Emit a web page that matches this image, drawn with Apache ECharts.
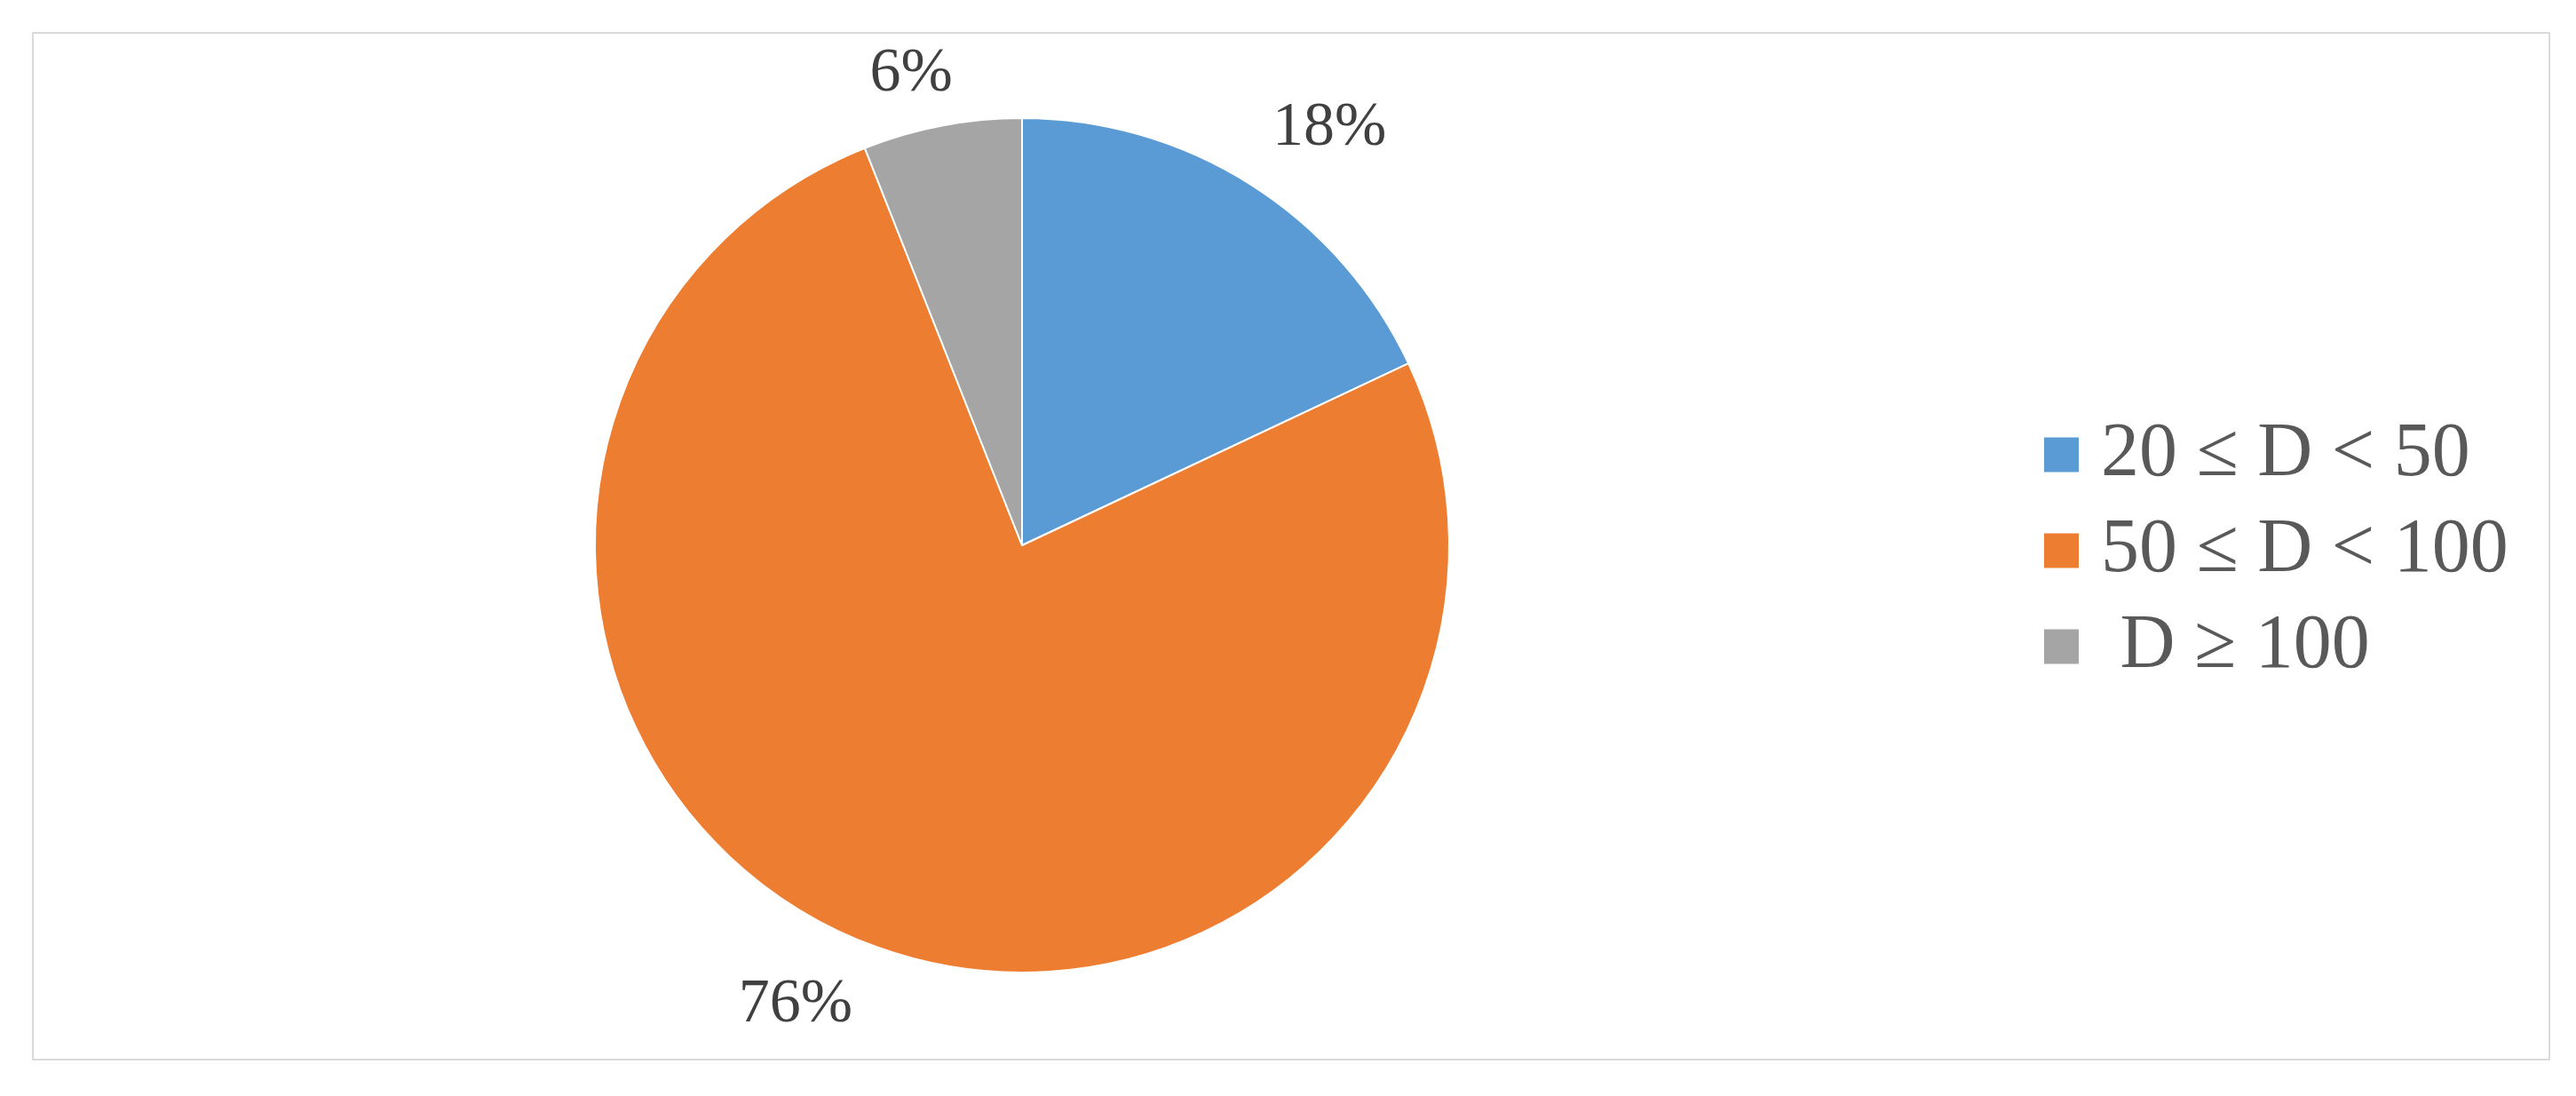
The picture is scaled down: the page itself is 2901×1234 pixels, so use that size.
<!DOCTYPE html>
<html>
<head>
<meta charset="utf-8">
<script src="https://cdn.jsdelivr.net/npm/echarts@6/dist/echarts.min.js"></script>
<style>
html,body{margin:0;padding:0;background:#fff;}
#main{width:2901px;height:1234px;}
</style>
</head>
<body>
<div id="main"></div>
<script>
const categories = ['20 ≤ D < 50', '50 ≤ D < 100', ' D ≥ 100'];
const values = [18, 76, 6];
const sliceColors = ['#5B9BD5', '#ED7D31', '#A5A5A5'];
// per-slice label placement tweaks (style only)
const labelLineLens = [75, 76, 59];
const labelDists = [-16, -14, -23];

const chart = echarts.init(document.getElementById('main'));
const font = "'Liberation Serif', 'Times New Roman', serif";

chart.setOption({
  animation: false,
  color: sliceColors,
  graphic: [{
    type: 'rect',
    shape: { x: 37, y: 37, width: 2834, height: 1156 },
    style: { fill: 'none', stroke: '#d9d9d9', lineWidth: 2 },
    silent: true
  }],
  legend: {
    orient: 'vertical',
    left: 2295,
    top: 464,
    icon: 'rect',
    itemWidth: 41,
    itemHeight: 41,
    itemGap: 22,
    selectedMode: false,
    data: categories,
    textStyle: {
      fontFamily: font,
      fontSize: 86,
      lineHeight: 86,
      color: '#595959',
      padding: [0, 0, 0, 19]
    }
  },
  series: [{
    type: 'pie',
    center: [1151, 614],
    radius: 481,
    startAngle: 90,
    clockwise: true,
    avoidLabelOverlap: false,
    emphasis: { disabled: true },
    itemStyle: { borderColor: '#ffffff', borderWidth: 2 },
    label: {
      show: true,
      position: 'outside',
      formatter: p => Math.round(p.percent) + '%',
      fontFamily: font,
      fontSize: 70,
      color: '#404040'
    },
    labelLine: { show: false, length: 75, length2: 0 },
    data: categories.map((c, i) => ({
      name: c,
      value: values[i],
      label: { distanceToLabelLine: labelDists[i] },
      labelLine: { show: false, length: labelLineLens[i], length2: 0 }
    }))
  }]
});
</script>
</body>
</html>
